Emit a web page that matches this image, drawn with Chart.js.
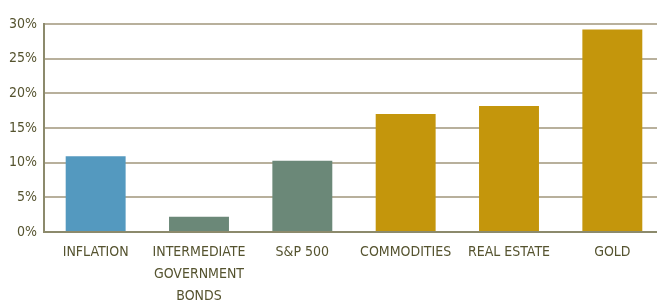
<!DOCTYPE html>
<html>
<head>
<meta charset="utf-8">
<script src="https://cdn.jsdelivr.net/npm/chart.js@4"></script>
<style>
  html, body { margin: 0; padding: 0; background: #fff; overflow: hidden; }
  #wrap { width: 664px; height: 300px; }
</style>
</head>
<body>
<div id="wrap"><canvas id="chart" width="664" height="300"></canvas></div>
<script>
// Werte
const categories = [
  'INFLATION',
  ['INTERMEDIATE', 'GOVERNMENT', 'BONDS'],
  'S&P 500',
  'COMMODITIES',
  'REAL ESTATE',
  'GOLD'
];
const returns = [10.9, 2.2, 10.25, 17.0, 18.15, 29.2];
const barColors = ['#5499bf', '#6b8878', '#6b8878', '#c4960c', '#c4960c', '#c4960c'];
const yTicks = [0, 5, 10, 15, 20, 25, 30];

const textColor = '#55532f';
const fontFamily = '"DejaVu Sans Condensed", sans-serif';

new Chart(document.getElementById('chart'), {
  type: 'bar',
  data: {
    labels: categories,
    datasets: [{
      data: returns,
      backgroundColor: barColors,
      borderWidth: 0,
      categoryPercentage: 1,
      barPercentage: 0.58
    }]
  },
  options: {
    responsive: false,
    animation: false,
    layout: { padding: { top: 24, left: 2, right: 0, bottom: -9 } },
    plugins: { legend: { display: false }, tooltip: { enabled: false } },
    scales: {
      y: {
        min: 0,
        max: 30,
        afterBuildTicks: axis => { axis.ticks = yTicks.map(v => ({ value: v })); },
        ticks: {
          callback: v => v + '%',
          color: textColor,
          font: { family: fontFamily, size: 14 },
          padding: 7
        },
        grid: { color: '#b8b09c', lineWidth: 2, drawTicks: false },
        border: { display: true, color: '#8c8a6c', width: 2 }
      },
      x: {
        ticks: {
          color: textColor,
          font: { family: fontFamily, size: 14, lineHeight: 1.55 },
          maxRotation: 0,
          autoSkip: false,
          padding: 2
        },
        grid: { display: false },
        border: { display: true, color: '#8c8a6c', width: 2 }
      }
    }
  }
});
</script>
</body>
</html>
